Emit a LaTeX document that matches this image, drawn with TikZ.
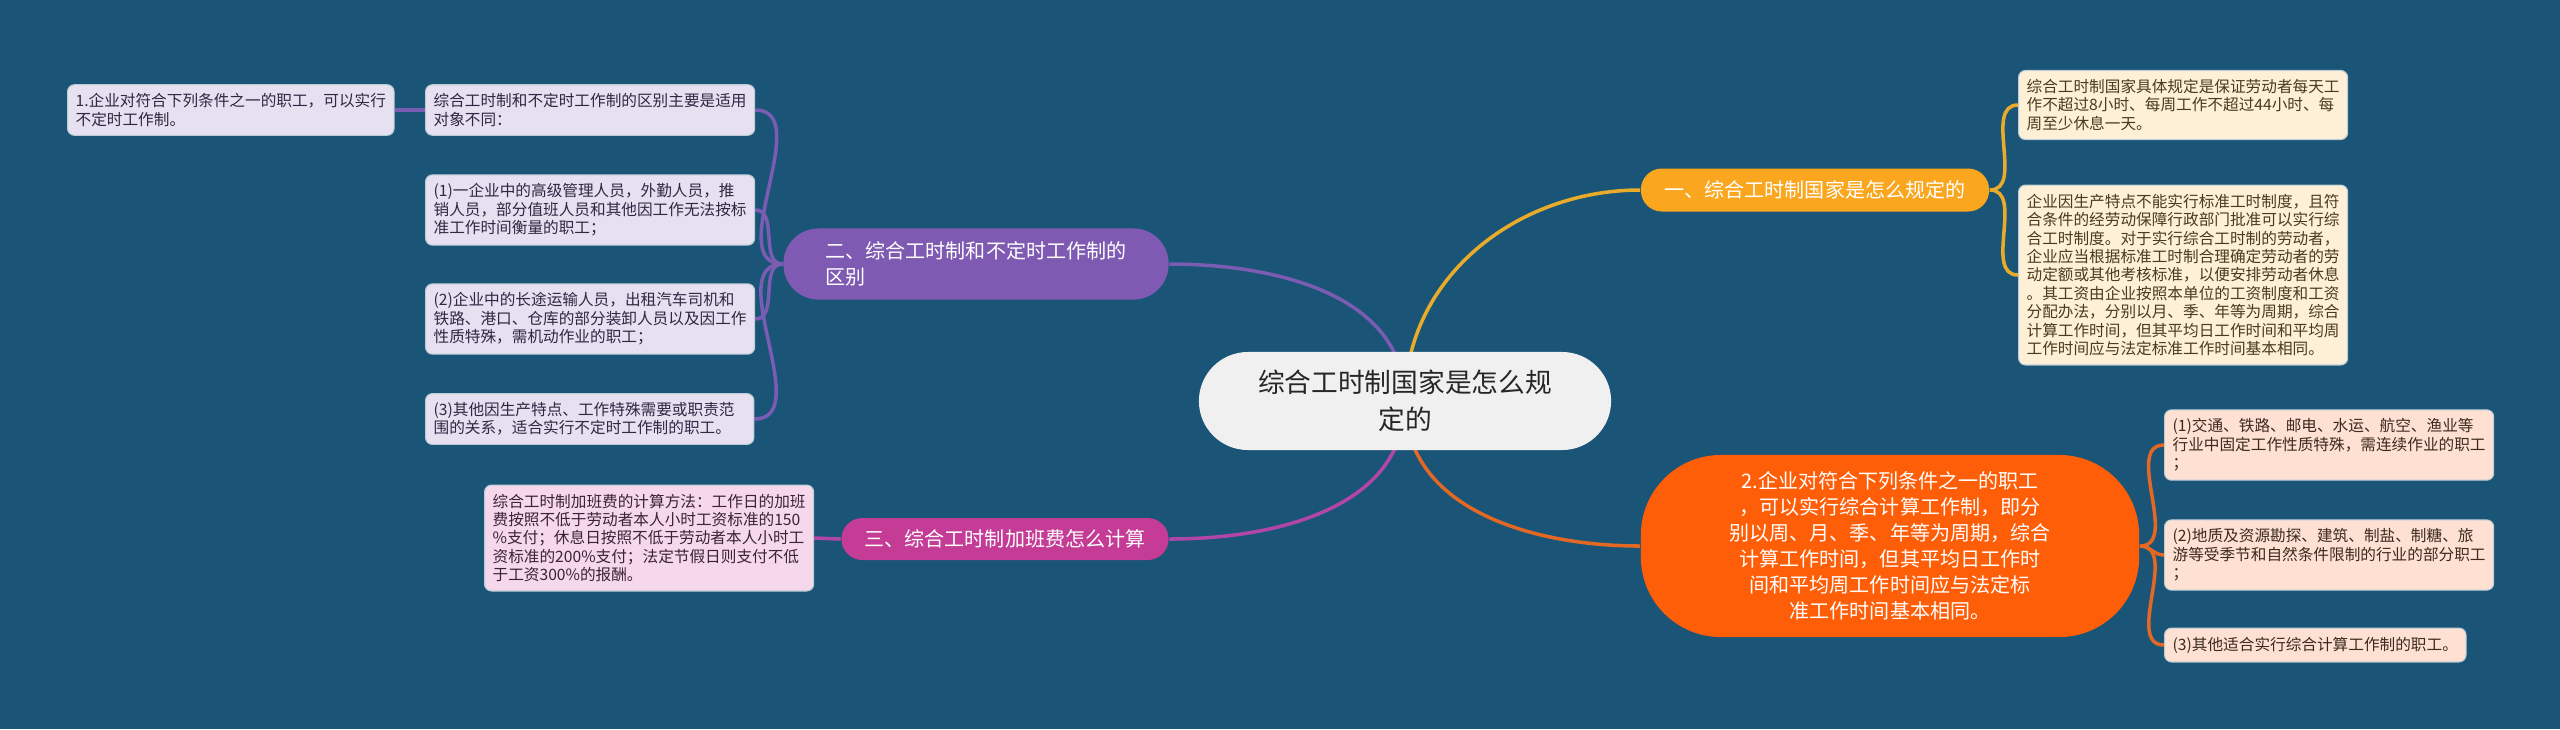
\documentclass[tikz,border=0pt]{standalone}
\usepackage{fontspec}
\newfontfamily\cjk{Noto Sans CJK SC}
\usetikzlibrary{backgrounds}

\definecolor{bgblue}{RGB}{26,84,118}
\definecolor{goldbranch}{RGB}{250,166,30}
\definecolor{purplebranch}{RGB}{126,90,178}
\definecolor{magentabranch}{RGB}{196,60,150}
\definecolor{orangebranch}{RGB}{255,94,8}
\definecolor{goldline}{RGB}{232,172,42}
\definecolor{purpleline}{RGB}{122,92,178}
\definecolor{magentaline}{RGB}{178,70,168}
\definecolor{orangeline}{RGB}{226,104,36}

\tikzstyle{topic}=[rectangle, rounded corners=0.49cm, fill=white!94!black, text=black!85, font=\cjk\fontsize{7.6pt}{10.4pt}\selectfont, align=center, minimum width=4.12cm, minimum height=0.98cm]
\tikzstyle{branch}=[rectangle, text=white, font=\cjk\fontsize{5.7pt}{7.4pt}\selectfont, inner xsep=6pt]
\tikzstyle{branch gold}=[branch, fill=goldbranch, rounded corners=0.21cm, minimum height=0.43cm, minimum width=3.48cm]
\tikzstyle{branch purple}=[branch, fill=purplebranch, rounded corners=0.35cm, minimum height=0.71cm, minimum width=3.85cm, align=left]
\tikzstyle{branch magenta}=[branch, fill=magentabranch, rounded corners=0.21cm, minimum height=0.42cm, minimum width=3.27cm]
\tikzstyle{branch orange}=[branch, fill=orangebranch, rounded corners=0.8cm, minimum height=1.82cm, minimum width=4.98cm, align=center]
\tikzstyle{leaf}=[rectangle, anchor=west, rounded corners=0.07cm, align=left, font=\cjk\fontsize{4.45pt}{5.25pt}\selectfont, inner xsep=2.3pt, inner ysep=2.5pt, draw=white!70!bgblue, line width=0.3pt]
\tikzstyle{leaf purple}=[leaf, fill={rgb,255:red,230;green,224;blue,241}, text={rgb,255:red,46;green,40;blue,66}]
\tikzstyle{leaf pink}=[leaf, fill={rgb,255:red,245;green,216;blue,236}, text={rgb,255:red,60;green,34;blue,54}]
\tikzstyle{leaf cream}=[leaf, fill={rgb,255:red,253;green,240;blue,214}, text={rgb,255:red,74;green,58;blue,30}]
\tikzstyle{leaf peach}=[leaf, fill={rgb,255:red,254;green,225;blue,210}, text={rgb,255:red,60;green,42;blue,32}]
\tikzstyle{link}=[line width=1pt]

\begin{document}
\begin{tikzpicture}[x=0.01cm, y=-0.01cm]
	\useasboundingbox (0,0) rectangle (2560,729);

	\node[topic] (root) at (1405,401) {综合工时制国家是怎么规\\定的};

	\node[branch gold] (gold) at (1815,190) {一、综合工时制国家是怎么规定的};
	\node[branch purple] (purple) at (976,264) {二、综合工时制和不定时工作制的\\区别};
	\node[branch magenta] (magenta) at (1005,539) {三、综合工时制加班费怎么计算};
	\node[branch orange] (orange) at (1890,546) {2.企业对符合下列条件之一的职工\\，可以实行综合计算工作制，即分\\别以周、月、季、年等为周期，综合\\计算工作时间，但其平均日工作时\\间和平均周工作时间应与法定标\\准工作时间基本相同。};

	% left side
	\node[leaf purple] (notfixed) at (67,110) {1.企业对符合下列条件之一的职工，可以实行\\不定时工作制。};
	\node[leaf purple] (diff) at (425,110) {综合工时制和不定时工作制的区别主要是适用\\对象不同：};
	\node[leaf purple] (staffa) at (425,210) {(1)一企业中的高级管理人员，外勤人员，推\\销人员，部分值班人员和其他因工作无法按标\\准工作时间衡量的职工；};
	\node[leaf purple] (staffb) at (425,319) {(2)企业中的长途运输人员，出租汽车司机和\\铁路、港口、仓库的部分装卸人员以及因工作\\性质特殊，需机动作业的职工；};
	\node[leaf purple, text width=3.12cm] (staffc) at (425,419) {(3)其他因生产特点、工作特殊需要或职责范\\围的关系，适合实行不定时工作制的职工。};
	\node[leaf pink] (overtime) at (484,538) {综合工时制加班费的计算方法：工作日的加班\\费按照不低于劳动者本人小时工资标准的150\\\%支付；休息日按照不低于劳动者本人小时工\\资标准的200\%支付；法定节假日则支付不低\\于工资300\%的报酬。};

	% right side
	\node[leaf cream] (rule) at (2018,105) {综合工时制国家具体规定是保证劳动者每天工\\作不超过8小时、每周工作不超过44小时、每\\周至少休息一天。};
	\node[leaf cream] (approve) at (2018,275) {企业因生产特点不能实行标准工时制度，且符\\合条件的经劳动保障行政部门批准可以实行综\\合工时制度。对于实行综合工时制的劳动者，\\企业应当根据标准工时制合理确定劳动者的劳\\动定额或其他考核标准，以便安排劳动者休息\\。其工资由企业按照本单位的工资制度和工资\\分配办法，分别以月、季、年等为周期，综合\\计算工作时间，但其平均日工作时间和平均周\\工作时间应与法定标准工作时间基本相同。};
	\node[leaf peach] (traffic) at (2164,445) {(1)交通、铁路、邮电、水运、航空、渔业等\\行业中固定工作性质特殊，需连续作业的职工\\；};
	\node[leaf peach] (season) at (2164,555) {(2)地质及资源勘探、建筑、制盐、制糖、旅\\游等受季节和自然条件限制的行业的部分职工\\；};
	\node[leaf peach] (others) at (2164,645) {(3)其他适合实行综合计算工作制的职工。};

	\begin{pgfonlayer}{background}
		\fill[bgblue] (0,0) rectangle (2560,729);
		\draw[link, goldline] (root.center) to[out=90, in=180] (gold.west);
		\draw[link, purpleline] (root.center) to[out=90, in=0] (purple.east);
		\draw[link, magentaline] (root.center) to[out=-90, in=0] (magenta.east);
		\draw[link, orangeline] (root.center) to[out=-90, in=180] (orange.west);

		\draw[link, goldline] (gold.east) to[out=0, in=180] (rule.west);
		\draw[link, goldline] (gold.east) to[out=0, in=180] (approve.west);

		\draw[link, purpleline] (purple.west) to[out=180, in=0] (diff.east);
		\draw[link, purpleline] (purple.west) to[out=180, in=0] (staffa.east);
		\draw[link, purpleline] (purple.west) to[out=180, in=0] (staffb.east);
		\draw[link, purpleline] (purple.west) to[out=180, in=0] (staffc.east);
		\draw[link, purpleline] (diff.west) -- (notfixed.east);

		\draw[link, magentaline] (magenta.west) -- (overtime.east);

		\draw[link, orangeline] (orange.east) to[out=0, in=180] (traffic.west);
		\draw[link, orangeline] (orange.east) to[out=0, in=180] (season.west);
		\draw[link, orangeline] (orange.east) to[out=0, in=180] (others.west);
	\end{pgfonlayer}
\end{tikzpicture}
\end{document}
